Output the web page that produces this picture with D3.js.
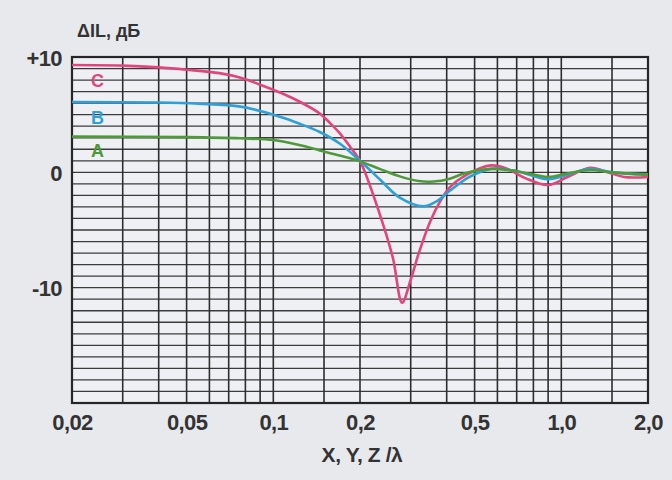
<!DOCTYPE html>
<html>
<head>
<meta charset="utf-8">
<script src="https://cdn.jsdelivr.net/npm/d3@7"></script>
<style>
  body { margin: 0; background: #e7e9ed; }
  text { font-family: "Liberation Sans", Arial, sans-serif; font-weight: bold; fill: #333; }
</style>
</head>
<body>
<div id="chart"></div>
<script>
// curve data, x = X,Y,Z / lambda, y = dB
var xC = [0.02, 0.03, 0.04, 0.05, 0.065, 0.077, 0.09, 0.106, 0.124, 0.145, 0.157, 0.17, 0.185, 0.2, 0.234, 0.26, 0.28, 0.30, 0.32, 0.35, 0.38, 0.41, 0.47, 0.57, 0.65, 0.75, 0.9, 1.05, 1.26, 1.45, 1.65, 2.0];
var yC = [9.3, 9.25, 9.1, 8.9, 8.6, 8.2, 7.6, 6.9, 6.1, 5.1, 4.3, 3.4, 2.2, 1.0, -3.6, -7.4, -11.3, -9.3, -7.0, -4.3, -2.5, -1.3, -0.2, 0.6, 0.3, -0.5, -1.1, -0.4, 0.4, 0.0, -0.4, -0.4];
var xB = [0.02, 0.04, 0.055, 0.077, 0.106, 0.124, 0.145, 0.17, 0.2, 0.234, 0.275, 0.331, 0.37, 0.41, 0.48, 0.57, 0.7, 0.9, 1.05, 1.26, 1.5, 2.0];
var yB = [6.1, 6.05, 5.95, 5.7, 4.8, 4.2, 3.5, 2.5, 1.0, -0.6, -2.2, -2.95, -2.5, -1.6, -0.4, 0.3, 0.1, -0.6, -0.2, 0.3, 0.0, -0.2];
var xA = [0.02, 0.05, 0.077, 0.1, 0.124, 0.145, 0.17, 0.2, 0.234, 0.275, 0.32, 0.36, 0.41, 0.46, 0.57, 0.7, 0.9, 1.05, 1.26, 1.5, 2.0];
var yA = [3.1, 3.05, 2.95, 2.8, 2.35, 1.9, 1.45, 0.95, 0.3, -0.35, -0.75, -0.8, -0.55, -0.1, 0.3, 0.1, -0.4, -0.1, 0.2, 0.0, -0.2];

var seriesNames = ["C", "B", "A"];
var seriesColors = ["#e0467a", "#2f9fd8", "#4e9a3a"];
var labelY = [7.8, 4.6, 1.7];

// grid / ticks
var xGrid = [0.03, 0.04, 0.05, 0.06, 0.07, 0.08, 0.09, 0.1, 0.15, 0.2, 0.3, 0.4, 0.5, 0.6, 0.7, 0.8, 0.9, 1.0, 1.5];
var xTicks = [0.02, 0.05, 0.1, 0.2, 0.5, 1.0, 2.0];
var xTickLabels = ["0,02", "0,05", "0,1", "0,2", "0,5", "1,0", "2,0"];
var yTicks = [10, 0, -10];
var yTickLabels = ["+10", "0", "-10"];

var margin = {top: 57, right: 24, bottom: 77, left: 72},
    width = 672 - margin.left - margin.right,
    height = 480 - margin.top - margin.bottom;

var svg = d3.select("#chart")
  .append("svg")
    .attr("width", 672)
    .attr("height", 480)
  .append("g")
    .attr("transform", "translate(" + margin.left + "," + margin.top + ")");

var x = d3.scaleLog()
  .domain([0.02, 2.0])
  .range([0, width]);

var y = d3.scaleLinear()
  .domain([-20, 10])
  .range([height, 0]);

// plot background
svg.append("rect")
  .attr("width", width)
  .attr("height", height)
  .attr("fill", "#eef0f4");

// horizontal grid every 1 dB
svg.append("g")
  .selectAll("line")
  .data(d3.range(-19, 10))
  .enter().append("line")
    .attr("x1", 0)
    .attr("x2", width)
    .attr("y1", function(d) { return y(d); })
    .attr("y2", function(d) { return y(d); })
    .attr("stroke", "#3c3c3c")
    .attr("stroke-width", 1.3);

// vertical log grid
svg.append("g")
  .selectAll("line")
  .data(xGrid)
  .enter().append("line")
    .attr("x1", function(d) { return x(d); })
    .attr("x2", function(d) { return x(d); })
    .attr("y1", 0)
    .attr("y2", height)
    .attr("stroke", "#2e2e2e")
    .attr("stroke-width", 1.6);

// frame
svg.append("rect")
  .attr("width", width)
  .attr("height", height)
  .attr("fill", "none")
  .attr("stroke", "#262626")
  .attr("stroke-width", 2.2);

// x axis labels
var xAxis = d3.axisBottom(x)
  .tickValues(xTicks)
  .tickSize(0)
  .tickFormat(function(d, i) { return xTickLabels[i]; });
svg.append("g")
  .attr("transform", "translate(0," + height + ")")
  .call(xAxis)
  .call(function(g) { g.select(".domain").remove(); })
  .selectAll("text")
    .attr("y", 27)
    .attr("dy", 0)
    .style("font-size", "22px")
    .style("letter-spacing", "-0.6px");

// y axis labels
var yAxis = d3.axisLeft(y)
  .tickValues(yTicks)
  .tickSize(0)
  .tickPadding(10)
  .tickFormat(function(d, i) { return yTickLabels[i]; });
svg.append("g")
  .call(yAxis)
  .call(function(g) { g.select(".domain").remove(); })
  .selectAll("text")
    .attr("dy", 8)
    .style("font-size", "22px")
    .style("letter-spacing", "-0.6px");

// axis titles
svg.append("text")
  .attr("x", 5)
  .attr("y", -20)
  .style("font-size", "18px")
  .text("ΔIL, дБ");

svg.append("text")
  .attr("x", 290)
  .attr("y", 405)
  .attr("text-anchor", "middle")
  .style("font-size", "21px")
  .style("letter-spacing", "-0.4px")
  .text("X, Y, Z /λ");

// curves
var line = d3.line()
  .x(function(d) { return x(d[0]); })
  .y(function(d) { return y(d[1]); })
  .curve(d3.curveCatmullRom.alpha(0.5));

var allX = [xC, xB, xA];
var allY = [yC, yB, yA];

allX.forEach(function(xs, k) {
  var pts = xs.map(function(v, i) { return [v, allY[k][i]]; });
  svg.append("path")
    .datum(pts)
    .attr("fill", "none")
    .attr("stroke", seriesColors[k])
    .attr("stroke-width", 2.6)
    .attr("d", line);
});

// curve labels
svg.selectAll(".lbl")
  .data(seriesNames)
  .enter().append("text")
    .attr("class", "lbl")
    .attr("x", x(0.0245))
    .attr("y", function(d, i) { return y(labelY[i]); })
    .attr("text-anchor", "middle")
    .attr("dominant-baseline", "middle")
    .style("font-size", "18px")
    .style("fill", function(d, i) { return seriesColors[i]; })
    .text(function(d) { return d; });
</script>
</body>
</html>
